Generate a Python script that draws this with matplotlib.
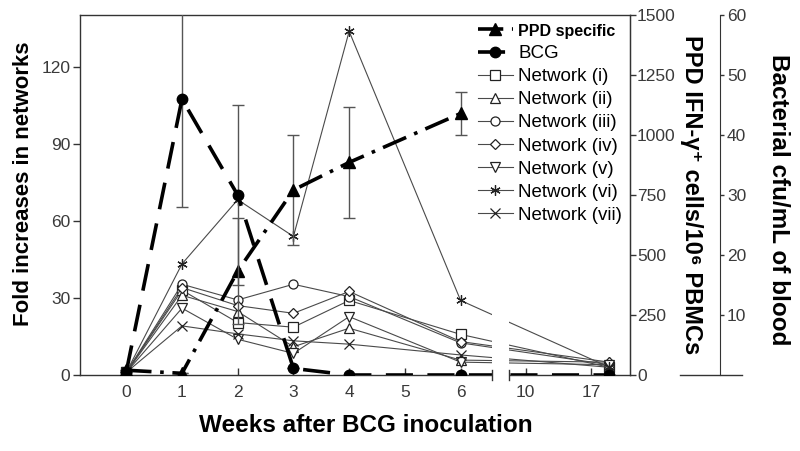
import matplotlib
matplotlib.use("Agg")
import matplotlib.pyplot as plt
from matplotlib.lines import Line2D

plt.rcParams['font.family'] = ['Liberation Sans', 'DejaVu Sans']

# ---------------- data ----------------
week_labels = ['0', '1', '2', '3', '4', '5', '6', '10', '17']
tick_pos = [0, 1, 2, 3, 4, 5, 6, 7.17, 8.34]
# sampled weeks 0,1,2,3,4,6,17 placed on the broken axis
x_pos = [0, 1, 2, 3, 4, 6, 8.67]

net_i = [1, 33, 20.4, 18.6, 29, 15.8, 3]
net_ii = [1, 31, 24.7, 11, 18.2, 5.8, 5]
net_iii = [1, 35.3, 29.2, 35.3, 30.5, 12.5, 4]
net_iv = [1, 34, 27, 24, 32.5, 13, 5]
net_v = [1, 26, 13.9, 8.4, 22.7, 5, 4]
net_vi = [1, 43.2, 68.2, 53.9, 133.7, 29, 3]
net_vii = [1, 19.1, 16, 13.3, 12, 7.8, 3]

ppd_x = [0, 1, 2, 3, 4, 6]
ppd_val = [20, 7, 433, 771, 886, 1090]
ppd_err = [0, 0, 220, 231, 230, 88]

bcg_val = [0.5, 46, 30, 1.1, 0, 0, 0]
bcg_err = [0, 18, 15, 0, 0, 0, 0]

networks = [
    ('Network (i)', net_i, 's'),
    ('Network (ii)', net_ii, '^'),
    ('Network (iii)', net_iii, 'o'),
    ('Network (iv)', net_iv, 'D'),
    ('Network (v)', net_v, 'v'),
    ('Network (vi)', net_vi, (6, 2, 0)),
    ('Network (vii)', net_vii, 'x'),
]

# ---------------- figure ----------------
fig = plt.figure(figsize=(8, 4.51), dpi=100)
ax = fig.add_axes([0.1, 0.1685, 0.6875, 0.798])
ax2 = ax.twinx()
ax3 = ax.twinx()

tick_color = '#3a3a3a'
line_color = '#4a4a4a'

handles = []
for name, vals, mk in networks:
    ms = 6.5 if mk not in ('D',) else 5.5
    if mk in ('x', (6, 2, 0)):
        h, = ax.plot(x_pos, vals, color=line_color, lw=0.8, marker=mk, ms=7.5,
                     mew=0.9, mec='#222222', zorder=3)
    else:
        h, = ax.plot(x_pos, vals, color=line_color, lw=0.8, marker=mk, ms=ms,
                     mfc='white', mec='#222222', mew=0.9, zorder=3)
    handles.append(h)

# PPD specific (middle axis)
ax2.errorbar(ppd_x, ppd_val, yerr=ppd_err, fmt='none', ecolor='#555555',
             elinewidth=1.0, capsize=4.3, capthick=1.0, zorder=2)
h_ppd, = ax2.plot(ppd_x, ppd_val, color='black', lw=2.6,
                  ls=(0, (7, 2.4, 1, 2.4)), marker='^', ms=8, mfc='black',
                  mec='black', zorder=4)

# BCG (bacterial cfu axis)
ax3.errorbar(x_pos, bcg_val, yerr=bcg_err, fmt='none', ecolor='#555555',
             elinewidth=1.0, capsize=4.3, capthick=1.0, zorder=2)
h_bcg, = ax3.plot(x_pos, bcg_val, color='black', lw=2.6, ls=(0, (7.5, 4)),
                  marker='o', ms=7.5, mfc='black', mec='black', zorder=4)

# ---------------- axes styling ----------------
ax.set_xlim(-0.83, 9.04)
ax.set_ylim(0, 140)
ax.set_yticks([0, 30, 60, 90, 120])
ax.set_xticks(tick_pos)
ax.set_xticklabels(week_labels)
ax.tick_params(axis='x', direction='in', length=5, width=1, colors='#333333',
               labelsize=12.5, labelcolor=tick_color, pad=7)
ax.tick_params(axis='y', direction='out', length=5, width=1, colors='#333333',
               labelsize=12.5, labelcolor=tick_color, pad=2)
for s in ax.spines.values():
    s.set_color('#333333')
    s.set_linewidth(1.0)

ax2.set_ylim(0, 1500)
ax2.set_yticks([0, 250, 500, 750, 1000, 1250, 1500])
ax2.tick_params(axis='y', direction='out', length=4, width=1, colors='#333333',
                labelsize=12.5, labelcolor=tick_color, pad=1)
for k in ('left', 'top', 'bottom'):
    ax2.spines[k].set_visible(False)
ax2.spines['right'].set_color('#333333')

ax3.set_ylim(0, 60)
ax3.set_yticks([10, 20, 30, 40, 50, 60])
ax3.spines['right'].set_position(('axes', 1.1636))
for k in ('left', 'top', 'bottom'):
    ax3.spines[k].set_visible(False)
ax3.spines['right'].set_color('#333333')
ax3.tick_params(axis='y', direction='out', length=3, width=1, colors='#333333',
                labelsize=12.5, labelcolor=tick_color, pad=2)

# broken x axis: white gap and end marks
ax3.axvspan(6.56, 6.87, ymin=-0.01, ymax=0.25, color='white', zorder=10,
            clip_on=False, lw=0)
for xb in (6.56, 6.87):
    ax3.axvline(xb, ymin=-0.014, ymax=0.014, color='#333333', lw=1,
                clip_on=False, zorder=11)

# baseline under the third axis
fig.add_artist(Line2D([680 / 800, 742 / 800], [76 / 451, 76 / 451],
                      color='#333333', lw=1))

# ---------------- labels ----------------
fig.text(24 / 800, 1 - 184 / 451, 'Fold increases in networks', rotation=90,
         ha='center', va='center', fontsize=16, fontweight='bold')
fig.text(366 / 800, 1 - 426 / 451, 'Weeks after BCG inoculation',
         ha='center', va='center', fontsize=17.5, fontweight='bold')
fig.text(691 / 800, 1 - 195 / 451, 'PPD IFN-γ⁺ cells/10⁶ PBMCs', rotation=270,
         ha='center', va='center', fontsize=17, fontweight='bold')
fig.text(779 / 800, 1 - 200 / 451, 'Bacterial cfu/mL of blood', rotation=270,
         ha='center', va='center', fontsize=17.5, fontweight='bold')

# ---------------- legend ----------------
leg = ax3.legend([h_ppd, h_bcg] + handles,
                 ['PPD specific', 'BCG'] + [n for n, _, _ in networks],
                 loc='upper left', bbox_to_anchor=(0.70, 1.015), frameon=False,
                 fontsize=13.5, handlelength=1.85, handletextpad=0.3,
                 labelspacing=0.32, borderpad=0.2, numpoints=1)
leg.set_zorder(20)
txts = leg.get_texts()
txts[0].set_fontweight('bold')
txts[0].set_fontsize(11.5)

fig.savefig('out.png', dpi=100)
